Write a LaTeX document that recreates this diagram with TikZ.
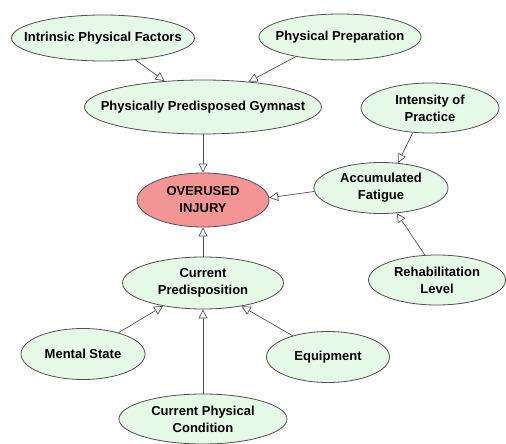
\documentclass[tikz,border=0pt]{standalone}
\usepackage{fontspec}
\setmainfont{Liberation Sans}
\usetikzlibrary{shapes.geometric,arrows.meta}
\definecolor{nodefill}{HTML}{E6F8E6}
\definecolor{injfill}{HTML}{F49595}
\definecolor{edgecol}{HTML}{505050}
\begin{document}
\begin{tikzpicture}[x=1pt,y=-1pt,
  bn/.style={ellipse,draw=edgecol,line width=0.8pt,fill=nodefill,inner xsep=-40pt,inner ysep=-6pt,
    align=center,font=\fontsize{13}{17}\selectfont\bfseries},
  inj/.style={bn,fill=injfill},
  link/.style={draw=edgecol,line width=0.7pt,
    -{Triangle[open,length=9pt,width=9pt,fill=white]}}]
\useasboundingbox (0,0) rectangle (506,444);
\node[bn,minimum width=183pt,minimum height=46pt] (ipf) at (103,38) {Intrinsic Physical Factors};
\node[bn,minimum width=162pt,minimum height=46pt] (pp) at (340,37) {Physical Preparation};
\node[bn,minimum width=237pt,minimum height=54pt] (gym) at (203,107) {Physically Predisposed Gymnast};
\node[bn,minimum width=138pt,minimum height=50pt] (ip) at (430,108) {Intensity of\\Practice};
\node[inj,minimum width=132pt,minimum height=54pt] (inj) at (203,200) {OVERUSED\\INJURY};
\node[bn,minimum width=134pt,minimum height=51pt] (af) at (381,188) {Accumulated\\Fatigue};
\node[bn,minimum width=137pt,minimum height=50pt] (rl) at (437,280) {Rehabilitation\\Level};
\node[bn,minimum width=161pt,minimum height=52pt] (cp) at (203,283) {Current\\Predisposition};
\node[bn,minimum width=124pt,minimum height=51pt] (ms) at (83,354) {Mental State};
\node[bn,minimum width=123pt,minimum height=51pt] (eq) at (328,357) {Equipment};
\node[bn,minimum width=168pt,minimum height=50pt] (cpc) at (203,419) {Current Physical\\Condition};
\draw[link] (ipf.-34) -- (gym.146);
\draw[link] (pp.204) -- (gym.29);
\draw[link] (gym) -- (inj);
\draw[link] (ip.235) -- (af.56);
\draw[link] (af.183) -- (inj.2);
\draw[link] (rl.116) -- (af.-58);
\draw[link] (cp) -- (inj);
\draw[link] (ms.31) -- (cp.210);
\draw[link] (eq.149) -- (cp.-31);
\draw[link] (cpc) -- (cp);
\end{tikzpicture}
\end{document}
